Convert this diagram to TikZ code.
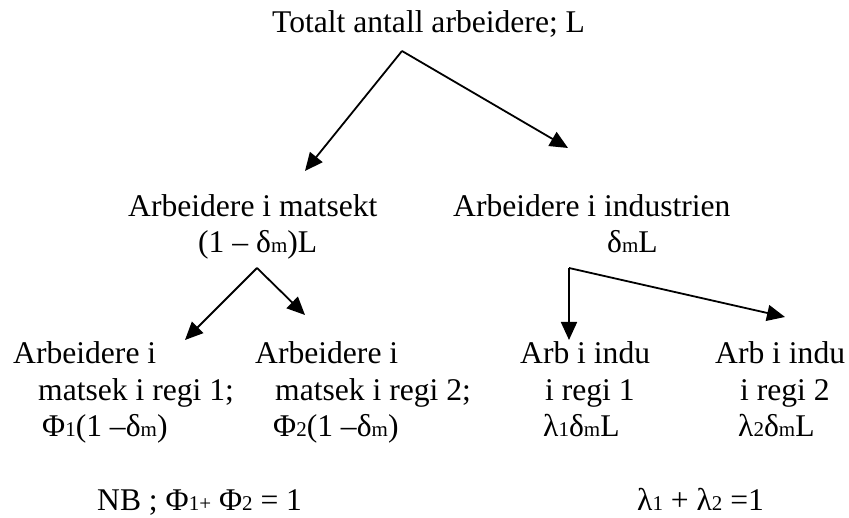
\documentclass[tikz,border=0pt]{standalone}
\usepackage{fontspec}
\setmainfont{Liberation Serif}
\usetikzlibrary{arrows.meta}
\newcommand{\sbx}[1]{{\fontsize{21}{21}\selectfont #1}}
\begin{document}
\begin{tikzpicture}[x=1pt,y=1pt,
  lbl/.style={anchor=base west, inner sep=0pt, font=\fontsize{31.6}{36}\selectfont},
  arr/.style={line width=1.8pt, -{Triangle[length=18pt,width=16pt]}}]
\useasboundingbox (0,0) rectangle (849,518);
% texts
\node[lbl] (top) at (272,485) {Totalt antall arbeidere; L};
\node[lbl] (m1) at (128,301) {Arbeidere i matsekt};
\node[lbl] (m2) at (198,265) {(1 – δ\sbx{m})L};
\node[lbl] (i1) at (453,301) {Arbeidere i industrien};
\node[lbl] (i2) at (607,265) {δ\sbx{m}L};
\node[lbl] (a1) at (13,154) {Arbeidere i};
\node[lbl] (a2) at (38,117) {matsek i regi 1;};
\node[lbl] (a3) at (42,81) {Φ\sbx{1}(1 –δ\sbx{m})};
\node[lbl] (b1) at (255,154) {Arbeidere i};
\node[lbl] (b2) at (275,117) {matsek i regi 2;};
\node[lbl] (b3) at (273,81) {Φ\sbx{2}(1 –δ\sbx{m})};
\node[lbl] (c1) at (520,154) {Arb i indu};
\node[lbl] (c2) at (545,117) {i regi 1};
\node[lbl] (c3) at (543,81) {λ\sbx{1}δ\sbx{m}L};
\node[lbl] (d1) at (715,154) {Arb i indu};
\node[lbl] (d2) at (740,117) {i regi 2};
\node[lbl] (d3) at (738,81) {λ\sbx{2}δ\sbx{m}L};
\node[lbl] (nb) at (97,7) {NB ; Φ\sbx{1+} Φ\sbx{2} = 1};
\node[lbl] (lam) at (637,7) {λ\sbx{1} + λ\sbx{2} =1};
% connector points
\coordinate (tapex) at (402,467);
\coordinate (ttl) at (305,347);
\coordinate (ttr) at (568,370);
\coordinate (mapex) at (257,250);
\coordinate (mtl) at (185,178);
\coordinate (mtr) at (305,203);
\coordinate (icorner) at (569,250);
\coordinate (itd) at (569,178);
\coordinate (itr) at (785,201);
% arrows
\draw[arr] (tapex) -- (ttl);
\draw[arr] (tapex) -- (ttr);
\draw[arr] (mapex) -- (mtl);
\draw[arr] (mapex) -- (mtr);
\draw[arr] (icorner) -- (itd);
\draw[arr] (icorner) -- (itr);
\end{tikzpicture}
\end{document}
